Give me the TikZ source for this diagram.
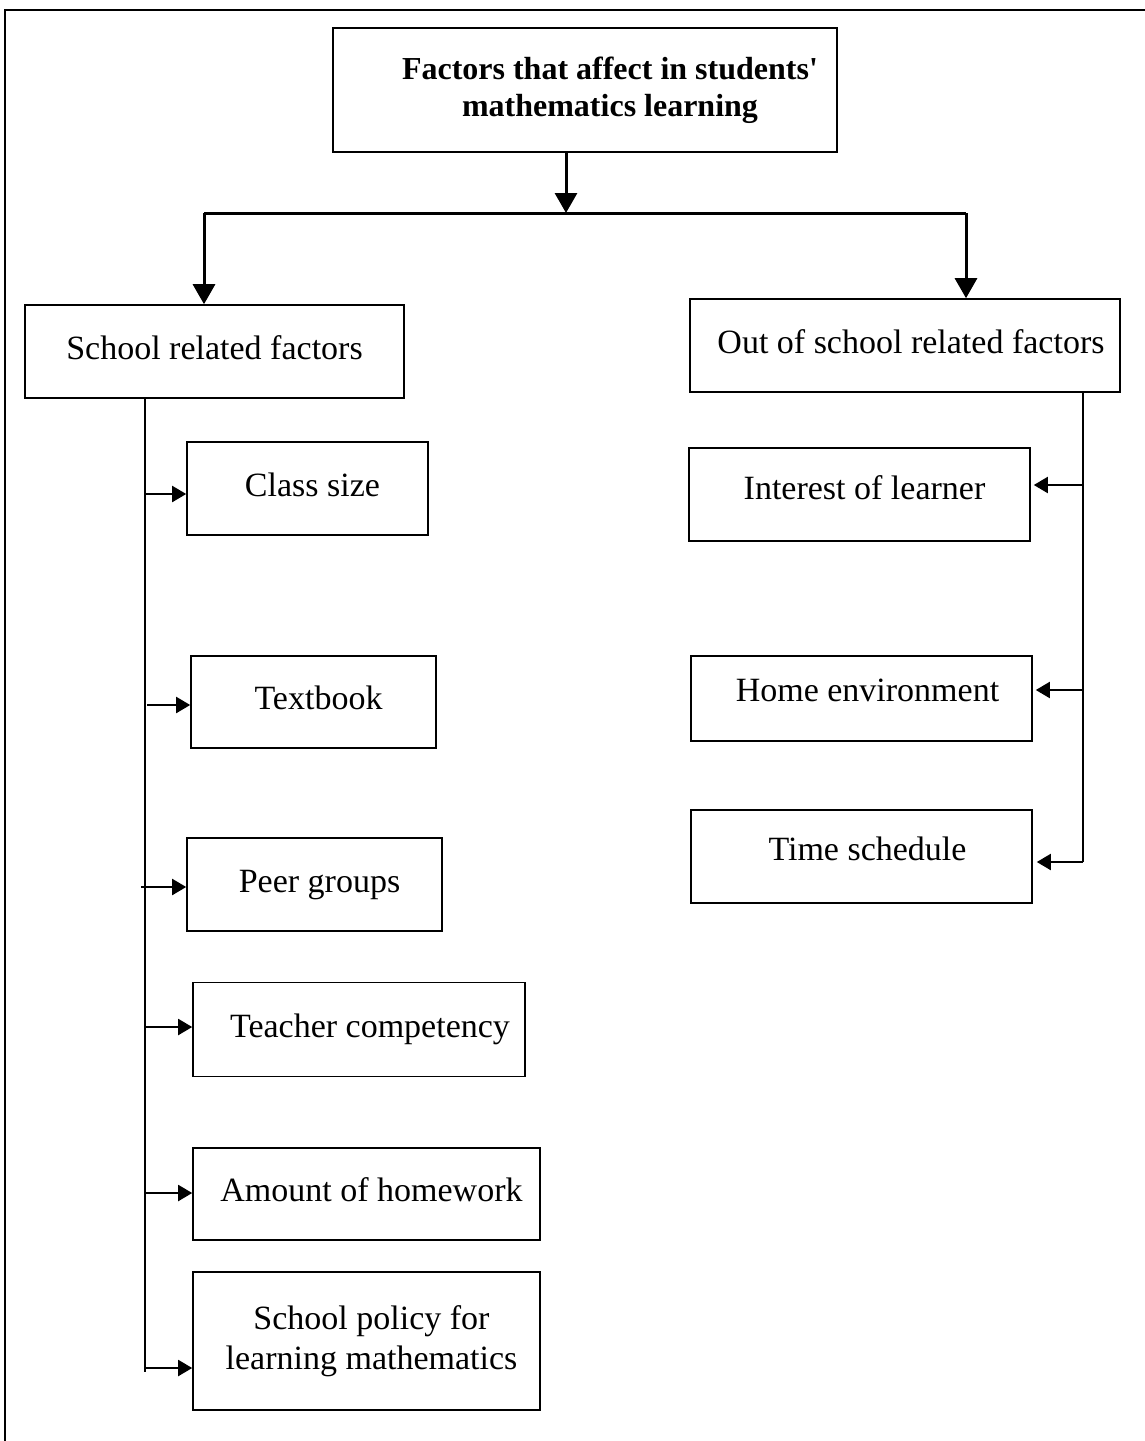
\documentclass[tikz,border=0pt]{standalone}
\usepackage{fontspec}
\setmainfont{Liberation Serif}
\usetikzlibrary{arrows.meta}
\begin{document}
\begin{tikzpicture}[x=0.5pt,y=-0.5pt,
  box/.style={draw, line width=0.8pt, inner sep=0pt, align=center,
    font=\fontsize{17pt}{20pt}\selectfont},
  one/.style={box, text height=11.6pt, text depth=3.7pt},
  bigarrow/.style={line width=1.5pt, -{Triangle[length=10pt,width=11pt]}},
  smallarrow/.style={line width=1pt, -{Triangle[length=7pt,width=8pt]}},
  trunk/.style={line width=1pt}]
\useasboundingbox (0,0) rectangle (1145,1441);
\draw[line width=1pt] (5,1441) -- (5,10) -- (1145,10);

\node[box, minimum width=252pt, minimum height=62pt,
  font=\fontsize{16pt}{18.5pt}\selectfont\bfseries] (top) at (585,90)
  {\hspace*{25pt}Factors that affect in students\textquotesingle\\\hspace*{25pt}mathematics learning};

\node[one, minimum width=189.5pt, minimum height=46.5pt] (school) at (214.5,351.5) {School related factors};
\node[one, minimum width=215pt, minimum height=46.5pt] (out) at (905,345.5) {\hspace*{6pt}Out of school related factors};

\node[one, minimum width=120.5pt, minimum height=46.5pt] (class) at (307.5,488.5) {\hspace*{5pt}Class size};
\node[one, minimum width=122.5pt, minimum height=46pt] (textbook) at (313.5,702) {\hspace*{5pt}Textbook};
\node[one, minimum width=127.5pt, minimum height=46.5pt] (peer) at (314.5,884.5) {\hspace*{5pt}Peer groups};
\node[one, minimum width=166pt, minimum height=47pt] (teacher) at (359,1029.5) {\hspace*{11pt}Teacher competency};
\node[one, minimum width=173.5pt, minimum height=46pt] (amount) at (366.5,1194) {\hspace*{5pt}Amount of homework};
\node[box, minimum width=173.5pt, minimum height=69pt] (policy) at (366.5,1341) {\hspace*{5pt}School policy for\\\hspace*{5pt}learning mathematics};

\node[one, minimum width=170.5pt, minimum height=46.5pt] (interest) at (859.5,494.5) {\raisebox{1.5pt}{\hspace*{5pt}Interest of learner}};
\node[one, minimum width=170.5pt, minimum height=42.5pt] (home) at (861.5,698.5) {\raisebox{2.5pt}{\hspace*{6pt}Home environment}};
\node[one, minimum width=170.5pt, minimum height=46.5pt] (time) at (861.5,856.5) {\raisebox{2pt}{\hspace*{6pt}Time schedule}};

% top-level connectors
\coordinate (j) at (566,213);
\coordinate (jl) at (204,213);
\coordinate (jr) at (966,213);
\draw[bigarrow] (top.south -| j) -- (j);
\draw[line width=1.5pt] (jl) -- (jr);
\draw[bigarrow] (jl) -- (school.north -| jl);
\draw[bigarrow] (jr) -- (out.north -| jr);

% left trunk
\coordinate (lt) at (145,398);
\coordinate (lb) at (145,1372);
\draw[trunk] (school.south -| lt) -- (lb);
\coordinate (b1) at (145,494);
\coordinate (b2) at (147,705);
\coordinate (b3) at (141,887);
\coordinate (b4) at (145,1027);
\coordinate (b5) at (145,1193);
\coordinate (b6) at (145,1368);
\draw[smallarrow] (b1) -- (class.west |- b1);
\draw[smallarrow] (b2) -- (textbook.west |- b2);
\draw[smallarrow] (b3) -- (peer.west |- b3);
\draw[smallarrow] (b4) -- (teacher.west |- b4);
\draw[smallarrow] (b5) -- (amount.west |- b5);
\draw[smallarrow] (b6) -- (policy.west |- b6);

% right trunk
\coordinate (rt) at (1083,392);
\coordinate (rb) at (1083,862);
\draw[trunk] (out.south -| rt) -- (rb);
\coordinate (r1) at (1083,485);
\coordinate (r2) at (1083,690);
\draw[smallarrow] (r1) -- ([xshift=1.5pt]interest.east |- r1);
\draw[smallarrow] (r2) -- ([xshift=1.5pt]home.east |- r2);
\draw[smallarrow] (rb) -- ([xshift=2pt]time.east |- rb);
\end{tikzpicture}
\end{document}
